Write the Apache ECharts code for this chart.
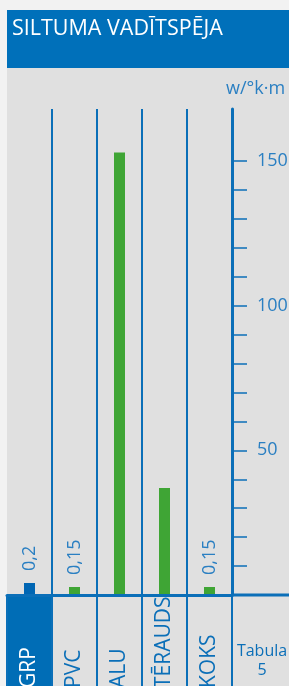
<!DOCTYPE html>
<html>
<head>
<meta charset="utf-8">
<script src="https://cdn.jsdelivr.net/npm/echarts@6/dist/echarts.min.js"></script>
<style>
html,body{margin:0;padding:0;background:#f2f2f2;}
#c{width:289px;height:686px;}
</style>
</head>
<body>
<div id="c"></div>
<script>
const categories = ['GRP', 'PVC', 'ALU', 'TĒRAUDS', 'KOKS'];
const values = [0.2, 0.15, 153, 37, 0.15];
const tickValues = [10, 20, 30, 40, 50, 60, 70, 80, 90, 100, 110, 120, 130, 140, 150];
const tickLabels = [50, 100, 150];
const titleText = 'SILTUMA VADĪTSPĒJA';
const unitText = 'w/°k·m';
const noteText = 'Tabula\n5';

const BLUE = '#0b6fb8';
const LBLUE = '#2a7fc2';
const GREEN = '#3fa535';
const FONT = '"Open Sans", sans-serif';

const G = {left: 7, right: 57, top: 109, bottom: 91};
const W = 289, H = 686;

const chart = echarts.init(document.getElementById('c'), null, {renderer: 'canvas'});

const grpData = values.map((v, i) => i === 0 ? v : '-');
const otherData = values.map((v, i) => i === 0 ? '-' : v);
const lbl = {
  show: true, position: 'top', rotate: 90, distance: 12,
  align: 'left', verticalAlign: 'middle',
  color: LBLUE, fontSize: 18, fontFamily: FONT, fontWeight: 400,
  formatter: p => (p.value < 1 ? String(p.value).replace('.', ',') : '')
};

chart.setOption({
  backgroundColor: '#e0e0e0',
  animation: false,
  title: {
    text: titleText, left: 12, top: 18, padding: 0,
    textStyle: {color: '#fff', fontSize: 21.5, fontWeight: 400, fontFamily: FONT}
  },
  grid: {left: G.left, right: G.right, top: G.top, bottom: G.bottom, containLabel: false, outerBoundsMode: 'none'},
  xAxis: {
    type: 'category', data: categories, z: 5,
    axisLine: {show: true, lineStyle: {color: BLUE, width: 3}},
    axisTick: {show: true, interval: 0, length: G.bottom, lineStyle: {color: BLUE, width: 2}},
    splitLine: {show: true, interval: 0, showMinLine: false, lineStyle: {color: BLUE, width: 2}},
    axisLabel: {
      interval: 0, rotate: 90, align: 'left', verticalAlign: 'middle', margin: 93,
      fontSize: 21, fontFamily: FONT, fontWeight: 400,
      color: (v) => v === 'GRP' ? '#ffffff' : BLUE
    }
  },
  yAxis: {
    type: 'value', position: 'right', min: 0, max: 168, interval: 10, z: 5,
    name: unitText, nameLocation: 'end', nameGap: 11,
    nameTextStyle: {color: LBLUE, fontSize: 18, fontFamily: FONT, fontWeight: 400, align: 'left', padding: [0, 0, 0, -6]},
    axisLine: {show: true, lineStyle: {color: BLUE, width: 3}},
    axisTick: {show: true, customValues: tickValues, length: 15, lineStyle: {color: BLUE, width: 1.5}},
    axisLabel: {customValues: tickLabels, margin: 25, color: LBLUE, fontSize: 18, fontFamily: FONT, fontWeight: 400},
    splitLine: {show: false}
  },
  series: [
    {type: 'bar', data: grpData, barWidth: 11, barGap: '-100%', barMinHeight: 12,
     itemStyle: {color: '#0066b3'}, label: lbl},
    {type: 'bar', data: otherData, barWidth: 11, barGap: '-100%', barMinHeight: 8,
     itemStyle: {color: GREEN}, label: lbl}
  ]
});

// decorations derived from the axis layout
const cx = chart.convertToPixel({xAxisIndex: 0}, 'GRP');
const base = chart.convertToPixel({yAxisIndex: 0}, 0);
const bw = (W - G.left - G.right) / categories.length;
chart.setOption({
  graphic: [
    {id: 'ls', type: 'rect', z: -10, shape: {x: 0, y: 0, width: 7, height: H}, style: {fill: '#f2f2f2'}, silent: true},
    {id: 'ts', type: 'rect', z: -10, shape: {x: 0, y: 0, width: W, height: 10}, style: {fill: '#f2f2f2'}, silent: true},
    {id: 'hd', type: 'rect', z: -10, shape: {x: 7, y: 10, width: W - 7, height: 58}, style: {fill: '#0070ba'}, silent: true},
    {id: 'cell', type: 'rect', z: 1, shape: {x: cx - bw / 2, y: base, width: bw, height: H - base}, style: {fill: '#006db6'}, silent: true},
    {id: 'bl', type: 'line', z: 6, shape: {x1: W - G.right, y1: base, x2: W, y2: base}, style: {stroke: BLUE, lineWidth: 3}, silent: true},
    {id: 'note', type: 'text', z: 10, style: {text: noteText, x: 262, y: 661, align: 'center', verticalAlign: 'middle',
      fill: BLUE, fontSize: 16, lineHeight: 19, fontFamily: FONT}}
  ]
});
</script>
</body>
</html>
